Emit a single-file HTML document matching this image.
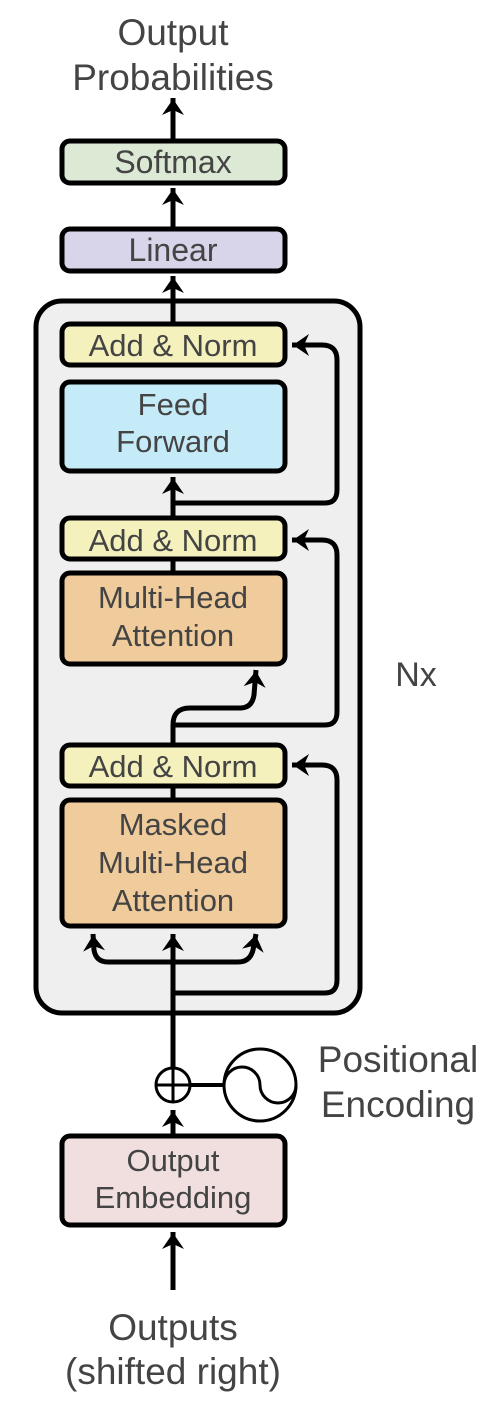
<!DOCTYPE html>
<html><head><meta charset="utf-8"><style>
html,body{margin:0;padding:0;background:#fff;}
svg{display:block;}
text{font-family:"Liberation Sans",sans-serif;fill:#444;text-anchor:middle;}
</style></head><body>
<svg width="498" height="1410" viewBox="0 0 498 1410">
<defs>
<marker id="a" markerWidth="8" markerHeight="8" refX="7" refY="4" orient="auto" markerUnits="userSpaceOnUse" viewBox="0 0 8 8" style="overflow:visible">
<path d="M-10,-7 L6,4 L-10,15 L-5,4 Z" fill="#000"/>
</marker>
</defs>
<g stroke="#000" stroke-width="5" fill="none">
<rect x="36" y="301" width="324" height="712" rx="26" fill="#efefef"/>
</g>
<g stroke="#000" stroke-width="5" fill="none" stroke-linejoin="round">
<path d="M173 1068 L173 934" marker-end="url(#a)"/>
<path d="M173 962 L108 962 Q96 962 94 950 L93 934" marker-end="url(#a)"/>
<path d="M173 962 L238 962 Q250 962 253 950 L256 934" marker-end="url(#a)"/>
<path d="M173 993 L325 993 Q337 993 337 980 L337 780 Q337 765 322 765 L292 765" marker-end="url(#a)"/>
<path d="M173 798 L173 786"/>
<path d="M173 743 L173 725 Q173 708 190 708 L240 708 Q252 708 254 695 L256 670" marker-end="url(#a)"/>
<path d="M173 725 L325 725 Q337 725 337 712 L337 555 Q337 540 322 540 L292 540" marker-end="url(#a)"/>
<path d="M173 572 L173 560"/>
<path d="M173 517 L173 477" marker-end="url(#a)"/>
<path d="M173 503 L325 503 Q337 503 337 490 L337 360 Q337 345 322 345 L292 345" marker-end="url(#a)"/>
<path d="M173 322 L173 276" marker-end="url(#a)"/>
<path d="M173 228 L173 188" marker-end="url(#a)"/>
<path d="M173 140 L173 98" marker-end="url(#a)"/>
<path d="M190 1085 L224 1085" stroke-width="4"/>
</g>
<g stroke="#000" stroke-width="5">
<rect x="62" y="141" width="223" height="42" rx="8" fill="#dce9d5"/>
<rect x="62" y="229" width="223" height="42" rx="8" fill="#d8d4ea"/>
<rect x="62" y="324" width="223" height="41" rx="8" fill="#f5f1bd"/>
<rect x="62" y="382" width="223" height="89" rx="8" fill="#c6ebf8"/>
<rect x="62" y="518" width="223" height="41" rx="8" fill="#f5f1bd"/>
<rect x="62" y="573" width="223" height="91" rx="8" fill="#f0cb9c"/>
<rect x="62" y="745" width="223" height="41" rx="8" fill="#f5f1bd"/>
<rect x="62" y="800" width="223" height="126" rx="8" fill="#f0cb9c"/>
<rect x="62" y="1136" width="223" height="89" rx="8" fill="#f1dfe0"/>
</g>
<g stroke="#000" stroke-width="5" fill="none">
<path d="M173 1290 L173 1232" marker-end="url(#a)"/>
<path d="M173 1136 L173 1110" marker-end="url(#a)"/>
</g>
<g stroke="#000" stroke-width="3" fill="#fff">
<circle cx="173" cy="1085" r="17"/>
<path d="M156 1085 H190 M173 1068 V1102" fill="none"/>
<circle cx="260" cy="1085" r="36"/>
<path d="M224 1085 A18 18 0 0 1 260 1085 A18 18 0 0 0 296 1085" fill="none"/>
</g>
<g font-size="31">
<text x="173" y="356">Add &amp; Norm</text>
<text x="173" y="415">Feed</text>
<text x="173" y="452">Forward</text>
<text x="173" y="551">Add &amp; Norm</text>
<text x="173" y="608">Multi-Head</text>
<text x="173" y="646">Attention</text>
<text x="173" y="777">Add &amp; Norm</text>
<text x="173" y="835">Masked</text>
<text x="173" y="873">Multi-Head</text>
<text x="173" y="911">Attention</text>
<text x="173" y="1171">Output</text>
<text x="173" y="1208">Embedding</text>
</g>
<text x="173" y="173" font-size="32">Softmax</text>
<text x="173" y="261" font-size="32">Linear</text>
<text x="173" y="45" font-size="37">Output</text>
<text x="173" y="90" font-size="37">Probabilities</text>
<text x="416" y="686" font-size="34">Nx</text>
<text x="398" y="1072" font-size="37">Positional</text>
<text x="398" y="1117" font-size="37">Encoding</text>
<text x="173" y="1340" font-size="37">Outputs</text>
<text x="173" y="1384" font-size="37">(shifted right)</text>
</svg>
</body></html>
